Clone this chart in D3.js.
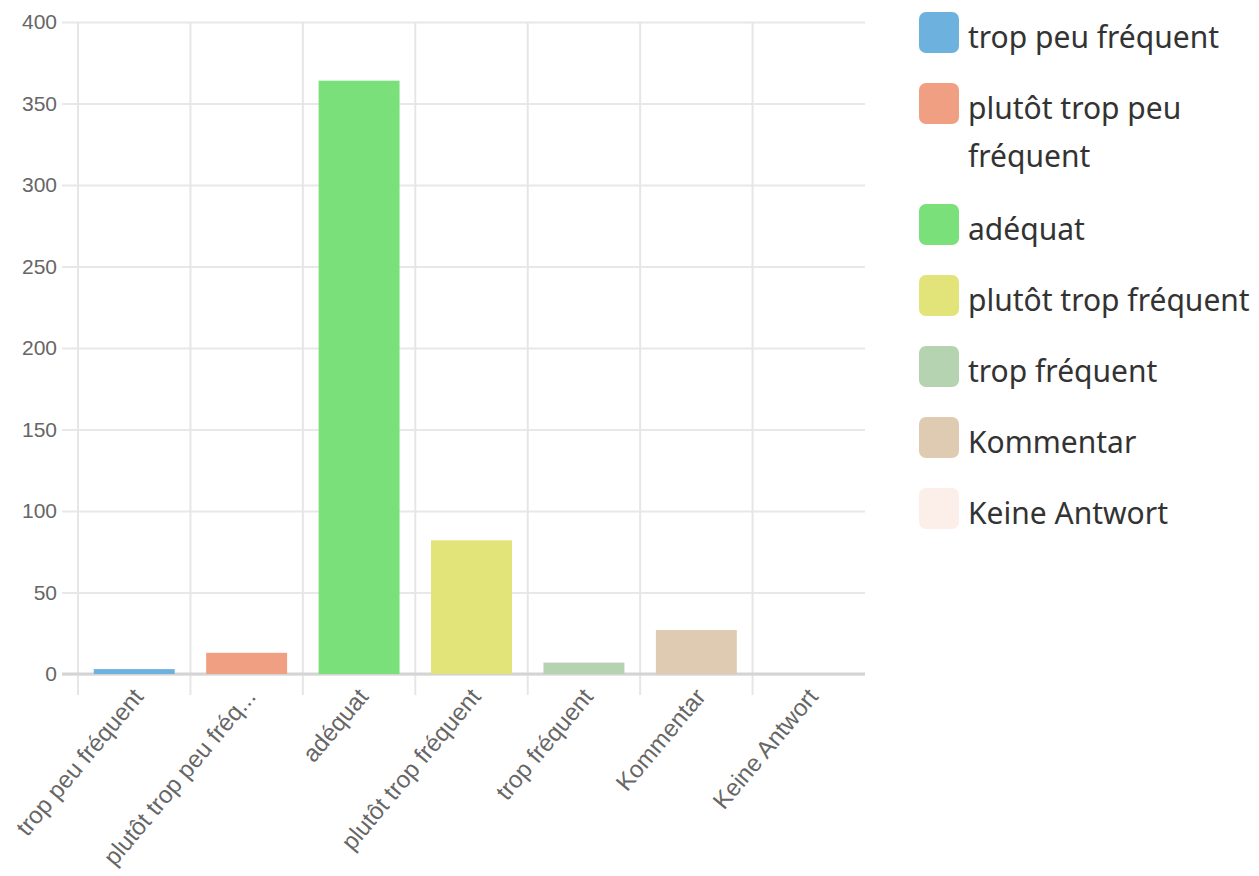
<!DOCTYPE html>
<html>
<head>
<meta charset="utf-8">
<script src="https://cdn.jsdelivr.net/npm/d3@7"></script>
<style>
  body { margin: 0; background: #fff; }
  svg { display: block; }
</style>
</head>
<body>
<svg id="chart" width="1259" height="876"></svg>
<script>
// Data
var categories = ['trop peu fréquent', 'plutôt trop peu fréq...', 'adéquat', 'plutôt trop fréquent',
                  'trop fréquent', 'Kommentar', 'Keine Antwort'];
var legendLabels = ['trop peu fréquent', 'plutôt trop peu fréquent', 'adéquat', 'plutôt trop fréquent',
                    'trop fréquent', 'Kommentar', 'Keine Antwort'];
var counts = [3, 13, 364, 82, 7, 27, 0];
var colors = ['#6db1de', '#f09f82', '#7ae07a', '#e2e378', '#b6d3b1', '#dfcbb1', '#fcefea'];
var yTicks = [0, 50, 100, 150, 200, 250, 300, 350, 400];

var svg = d3.select('#chart'),
    plotLeft   = 78,
    plotRight  = 865,
    plotTop    = 22,
    plotBottom = 674;

var x = d3.scaleBand()
    .domain(categories)
    .range([plotLeft, plotRight])
    .paddingInner(0.28)
    .paddingOuter(0.14);

var y = d3.scaleLinear()
    .domain([0, 400])
    .range([plotBottom, plotTop]);

// y grid + labels
var yAxis = svg.append('g')
    .attr('transform', 'translate(62,0)')
    .call(d3.axisLeft(y).tickValues(yTicks).tickSize(-(plotRight - 62)).tickPadding(5));
yAxis.select('.domain').remove();
yAxis.selectAll('line').attr('stroke', '#e8e8e8').attr('stroke-width', 2);
yAxis.selectAll('text')
    .attr('fill', '#666')
    .style('font', '21px "Liberation Sans", Arial, sans-serif');

// vertical grid lines at category boundaries (none on the far right)
var step = x.step();
svg.append('g').selectAll('line')
    .data(categories)
    .join('line')
    .attr('x1', function (d) { return x(d) - step * 0.14; })
    .attr('x2', function (d) { return x(d) - step * 0.14; })
    .attr('y1', plotTop)
    .attr('y2', plotBottom + 21)
    .attr('stroke', '#e6e6e6')
    .attr('stroke-width', 2);

// zero line
svg.append('line')
    .attr('x1', 62).attr('x2', plotRight)
    .attr('y1', y(0)).attr('y2', y(0))
    .attr('stroke', '#d4d4d4')
    .attr('stroke-width', 3);

// bars
svg.append('g').selectAll('rect')
    .data(counts)
    .join('rect')
    .attr('x', function (d, i) { return x(categories[i]); })
    .attr('width', x.bandwidth())
    .attr('y', function (d) { return y(d); })
    .attr('height', function (d) { return y(0) - y(d); })
    .attr('fill', function (d, i) { return colors[i]; });

// x labels
var xAxis = svg.append('g')
    .attr('transform', 'translate(0,' + plotBottom + ')')
    .call(d3.axisBottom(x).tickSize(0).tickPadding(0));
xAxis.select('.domain').remove();
xAxis.selectAll('text')
    .attr('fill', '#666')
    .attr('text-anchor', 'end')
    .attr('dy', '0.35em')
    .attr('y', 0)
    .attr('transform', 'translate(4,18) rotate(-50)')
    .style('font', '24px "Liberation Sans", Arial, sans-serif');

// legend
var legend = svg.append('g').attr('transform', 'translate(919,0)');
var rowY = 12;
legendLabels.forEach(function (label, i) {
    var g = legend.append('g').attr('transform', 'translate(0,' + rowY + ')');
    g.append('rect')
        .attr('width', 40).attr('height', 41)
        .attr('rx', 7)
        .attr('fill', colors[i]);
    var t = g.append('text')
        .attr('fill', '#333')
        .style('font', '30px "Noto Sans", sans-serif');
    // wrap long labels
    var words = label.split(' '), line = [], lines = 0;
    var ts = t.append('tspan').attr('x', 49).attr('y', 36);
    words.forEach(function (w) {
        line.push(w);
        ts.text(line.join(' '));
        if (ts.node().getComputedTextLength() > 300 && line.length > 1) {
            line.pop();
            ts.text(line.join(' '));
            line = [w];
            lines++;
            ts = t.append('tspan').attr('x', 49).attr('y', 36 + lines * 48).text(w);
        }
    });
    rowY += 71 + lines * 50;
});
</script>
</body>
</html>
